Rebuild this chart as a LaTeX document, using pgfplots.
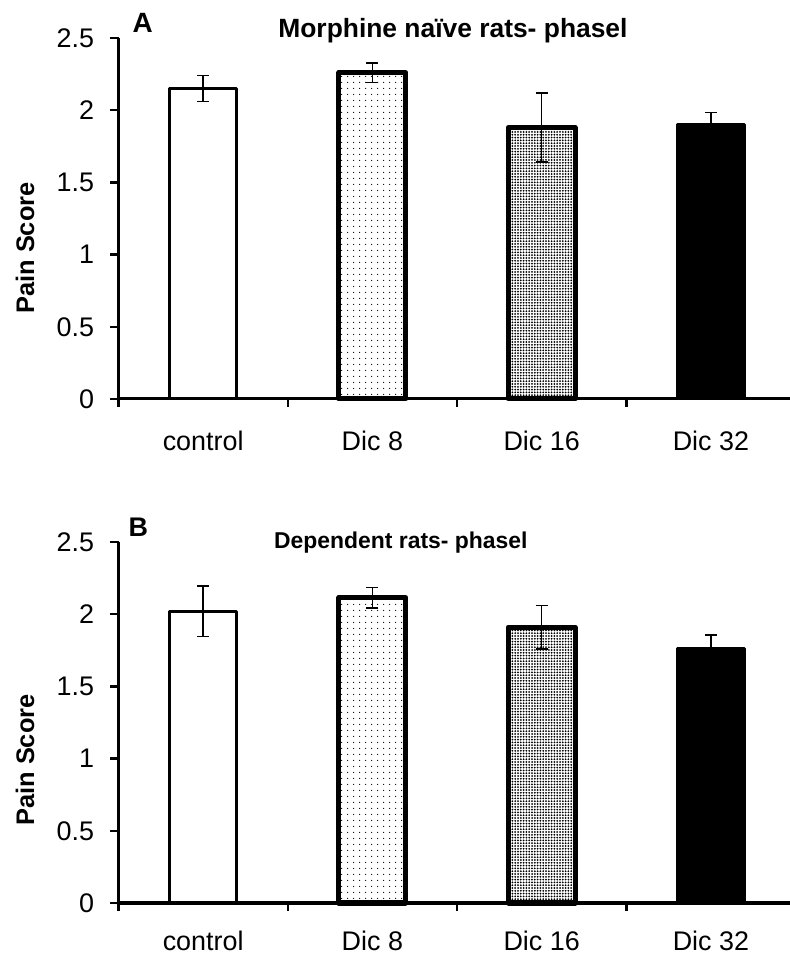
\documentclass[border=0pt]{standalone}
\usepackage{fontspec}
\setmainfont{Liberation Sans}
\usepackage{pgfplots}
\pgfplotsset{compat=1.18}
\usetikzlibrary{patterns.meta}

\pgfplotsset{
  panel/.style={
    anchor=south west,
    scale only axis, width=677bp, height=361bp,
    xmin=-0.5, xmax=3.5, ymin=0, ymax=2.5,
    axis lines*=left,
    axis line style={line width=3bp, black},
    tick align=outside,
    major tick length=8bp,
    tick style={line width=2.5bp, black},
    ytick={0,0.5,1,1.5,2,2.5},
    yticklabels={0,0.5,1,1.5,2,2.5},
    xtick={-0.5,0.5,1.5,2.5,3.5},
    xticklabels={},
    extra x ticks={0,1,2,3},
    extra x tick labels={control,Dic 8,Dic 16,Dic 32},
    extra x tick style={major tick length=0pt},
    /pgf/number format/assume math mode=true,
    ticklabel style={font=\fontsize{27}{31}\selectfont},
    yticklabel style={xshift=-13bp},
    clip=false,
  },
  bar/.style={ybar, bar shift=0pt, bar width=67bp, draw=black, line join=round,
    error bars/y dir=both, error bars/y explicit,
    error bars/error bar style={line width=1.6bp, black},
    error bars/error mark options={rotate=90, mark size=6bp, line width=1.6bp, black}},
}

\begin{document}
\begin{tikzpicture}
\useasboundingbox (0,0) rectangle (790bp,958bp);

% Panel A
\begin{axis}[panel, at={(118.5bp,559bp)}, xticklabel style={anchor=base, yshift=-52bp}]
\addplot[bar, fill=white, line width=3bp] coordinates {(0,2.15) +- (0,0.09)};
\addplot[bar, line width=5bp, pattern={Dots[distance=6bp, radius=0.75bp]}] coordinates {(1,2.26) +- (0,0.068)};
\addplot[bar, line width=5bp, pattern={Dots[distance=2.8bp, radius=1bp]}] coordinates {(2,1.88) +- (0,0.24)};
\addplot[bar, fill=black, line width=3bp] coordinates {(3,1.90) +- (0,0.085)};
\node[font=\bfseries\fontsize{26.5}{30}\selectfont, anchor=base] at (rel axis cs:0.494,1) {Morphine naïve rats- phasel};
\end{axis}

% Panel B
\begin{axis}[panel, at={(118.5bp,55bp)}, xticklabel style={anchor=base, yshift=-47bp}]
\addplot[bar, fill=white, line width=3bp] coordinates {(0,2.02) +- (0,0.175)};
\addplot[bar, line width=5bp, pattern={Dots[distance=6bp, radius=0.75bp]}] coordinates {(1,2.115) +- (0,0.07)};
\addplot[bar, line width=5bp, pattern={Dots[distance=2.8bp, radius=1bp]}] coordinates {(2,1.91) +- (0,0.15)};
\addplot[bar, fill=black, line width=3bp] coordinates {(3,1.765) +- (0,0.09)};
\node[font=\bfseries\fontsize{23}{27}\selectfont, anchor=base] at (rel axis cs:0.417,0.983) {Dependent rats- phasel};
\end{axis}

\node[font=\bfseries\fontsize{28}{32}\selectfont, anchor=base west] at (129bp,925bp) {A};
\node[font=\bfseries\fontsize{27}{31}\selectfont, anchor=base west] at (125bp,421bp) {B};
\node[font=\bfseries\fontsize{25.5}{29}\selectfont, rotate=90] at (25bp,710bp) {Pain Score};
\node[font=\bfseries\fontsize{25.5}{29}\selectfont, rotate=90] at (25bp,198bp) {Pain Score};
\end{tikzpicture}
\end{document}
